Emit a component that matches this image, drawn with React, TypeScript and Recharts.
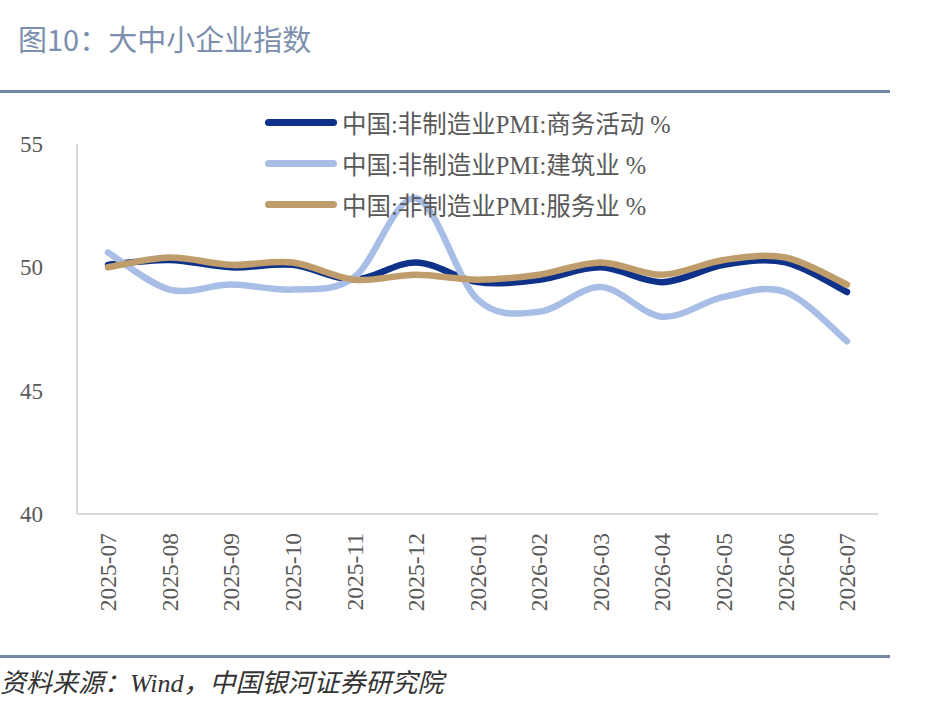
import React from 'react';
import { LineChart, Line, XAxis, YAxis } from 'recharts';

const categories = ['2025-07', '2025-08', '2025-09', '2025-10', '2025-11', '2025-12', '2026-01', '2026-02', '2026-03', '2026-04', '2026-05', '2026-06', '2026-07'];
const businessActivity = [50.1, 50.3, 50.0, 50.1, 49.5, 50.2, 49.4, 49.5, 50.0, 49.4, 50.1, 50.2, 49.0];
const construction = [50.6, 49.1, 49.3, 49.1, 49.6, 52.8, 48.7, 48.2, 49.2, 48.0, 48.8, 49.0, 47.0];
const services = [50.0, 50.4, 50.1, 50.2, 49.5, 49.7, 49.5, 49.7, 50.2, 49.7, 50.3, 50.4, 49.3];
const yTicks = [40, 45, 50, 55];

const seriesNames = ['中国:非制造业PMI:商务活动 %', '中国:非制造业PMI:建筑业 %', '中国:非制造业PMI:服务业 %'];
const seriesColors = ['#0e3189', '#a8bee6', '#bf9c6b'];
const seriesKeys = ['business', 'construction', 'services'];

const data = categories.map((c, i) => ({
  month: c,
  business: businessActivity[i],
  construction: construction[i],
  services: services[i],
}));

const serifFont = "'Liberation Serif', 'Noto Sans CJK SC', serif";

function catmullRom(context: any) {
  let pts: [number, number][] = [];
  return {
    areaStart() {},
    areaEnd() {},
    lineStart() {
      pts = [];
    },
    lineEnd() {
      const n = pts.length;
      if (n === 0) return;
      context.moveTo(pts[0][0], pts[0][1]);
      for (let i = 0; i < n - 1; i++) {
        const p0 = pts[i - 1] || pts[i];
        const p1 = pts[i];
        const p2 = pts[i + 1];
        const p3 = pts[i + 2] || p2;
        context.bezierCurveTo(
          p1[0] + (p2[0] - p0[0]) / 6,
          p1[1] + (p2[1] - p0[1]) / 6,
          p2[0] - (p3[0] - p1[0]) / 6,
          p2[1] - (p3[1] - p1[1]) / 6,
          p2[0],
          p2[1]
        );
      }
    },
    point(x: number, y: number) {
      pts.push([+x, +y]);
    },
  };
}

const XTick = (props: any) => {
  const { x, y, payload } = props;
  const ty = y + 11;
  return (
    <text
      x={x}
      y={ty}
      transform={`rotate(-90, ${x}, ${ty})`}
      textAnchor="end"
      dy="0.35em"
      fontSize={23.5}
      fill="#595959"
      fontFamily={serifFont}
    >
      {payload.value}
    </text>
  );
};

export default function App() {
  return (
    <div style={{ position: 'absolute', left: 0, top: 0, width: 927, height: 720, background: '#fff', overflow: 'hidden' }}>
      <div
        style={{
          position: 'absolute',
          left: 18,
          top: 20,
          fontSize: 29,
          lineHeight: '36px',
          color: '#7d8fae',
          fontFamily: "'Noto Sans CJK SC', sans-serif",
          whiteSpace: 'nowrap',
        }}
      >
        图10：大中小企业指数
      </div>
      <div style={{ position: 'absolute', left: 0, top: 90, width: 890, height: 3, background: '#7388a6' }} />
      <div style={{ position: 'absolute', left: 0, top: 655, width: 890, height: 3, background: '#7388a6' }} />
      <div
        style={{
          position: 'absolute',
          left: 0,
          top: 666,
          fontSize: 26,
          lineHeight: '36px',
          color: '#333',
          fontStyle: 'italic',
          fontFamily: serifFont,
          whiteSpace: 'nowrap',
        }}
      >
        资料来源：Wind，中国银河证券研究院
      </div>
      <div style={{ position: 'absolute', left: 0, top: 0 }}>
        <LineChart width={927} height={720} data={data} margin={{ top: 144, right: 49, bottom: 96, left: 0 }}>
          <XAxis
            dataKey="month"
            interval={0}
            tickLine={false}
            padding={{ left: 31, right: 31 }}
            axisLine={{ stroke: '#d9d9d9', strokeWidth: 2 }}
            tick={<XTick />}
            height={110}
          />
          <YAxis
            domain={[40, 55]}
            ticks={yTicks}
            width={77}
            tickLine={false}
            tickMargin={28}
            axisLine={{ stroke: '#d9d9d9', strokeWidth: 2 }}
            tick={{ fontSize: 23, fill: '#595959', fontFamily: serifFont }}
            interval={0}
          />
          {seriesKeys.map((k, i) => (
            <Line
              key={k}
              dataKey={k}
              name={seriesNames[i]}
              type={catmullRom as any}
              stroke={seriesColors[i]}
              strokeWidth={6.5}
              strokeLinecap="round"
              dot={false}
              activeDot={false}
              isAnimationActive={false}
            />
          ))}
        </LineChart>
      </div>
      <div style={{ position: 'absolute', left: 265, top: 102 }}>
        {seriesNames.map((n, i) => (
          <div key={n} style={{ display: 'flex', alignItems: 'center', height: 41 }}>
            <div style={{ width: 72, height: 7, borderRadius: 4, background: seriesColors[i], marginRight: 5 }} />
            <span style={{ fontSize: 24.5, color: '#595959', fontFamily: serifFont, whiteSpace: 'nowrap' }}>{n}</span>
          </div>
        ))}
      </div>
    </div>
  );
}
